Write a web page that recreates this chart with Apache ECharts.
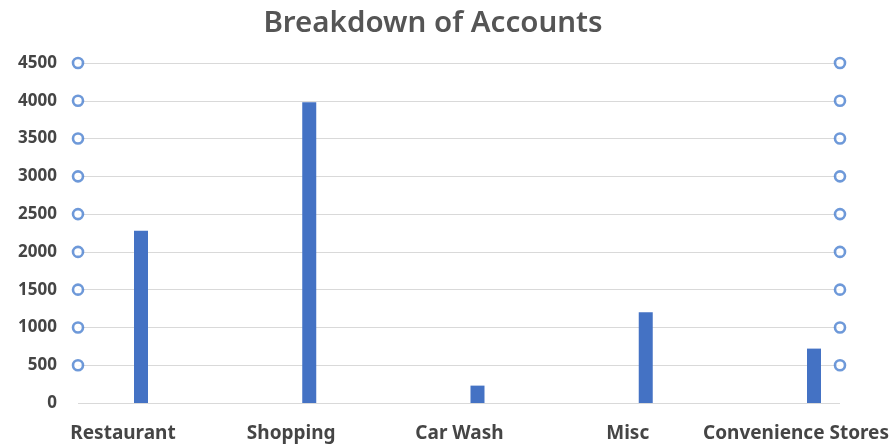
<!DOCTYPE html>
<html>
<head>
<meta charset="utf-8">
<script src="https://cdn.jsdelivr.net/npm/echarts@6/dist/echarts.min.js"></script>
<style>
  html, body { margin: 0; padding: 0; background: #fff; }
  #chart { width: 892px; height: 445px; }
</style>
</head>
<body>
<div id="chart"></div>
<script>
// Account counts by business category
const categories = ['Restaurant', 'Shopping', 'Car Wash', 'Misc', 'Convenience Stores'];
const accounts = [2280, 3980, 230, 1200, 720];
// Value-axis ticks (marker rows shown at every tick above zero)
const yTicks = [0, 500, 1000, 1500, 2000, 2500, 3000, 3500, 4000, 4500];

const markerRows = yTicks.filter(v => v > 0);
const markerData = [];
markerRows.forEach(v => { markerData.push([0, v]); markerData.push([1, v]); });

const labelFont = { fontFamily: 'Noto Sans', fontWeight: 'bold', color: '#454545' };
const chart = echarts.init(document.getElementById('chart'), null, { renderer: 'canvas' });

chart.setOption({
  backgroundColor: '#ffffff',
  animation: false,
  title: {
    text: 'Breakdown of Accounts',
    left: 428, top: 4, textAlign: 'center',
    textStyle: { fontFamily: 'Noto Sans', fontWeight: 600, fontSize: 29.5, color: '#555' }
  },
  grid: [
    // plot area: gridlines and the marker columns at each end
    { left: 78, right: 52, top: 63, bottom: 42 },
    // bar layer: first and last category sit on the grid edges
    { left: 141, right: 74, top: 63, bottom: 42 }
  ],
  xAxis: [
    { gridIndex: 0, type: 'value', min: 0, max: 1, show: false },
    {
      gridIndex: 1, type: 'category', data: categories, boundaryGap: false,
      axisLine: { show: false }, axisTick: { show: false }, splitLine: { show: false },
      axisLabel: Object.assign({
        fontSize: 19, margin: 21, interval: 0, padding: [0, 36, 0, 0]
      }, labelFont)
    }
  ],
  yAxis: [
    {
      gridIndex: 0, type: 'value', min: 0, max: 4500, interval: 500,
      axisLine: { show: false }, axisTick: { show: false },
      axisLabel: Object.assign({
        fontSize: 17, margin: 21, formatter: v => String(v)
      }, labelFont),
      splitLine: { lineStyle: { color: '#d9d9d9', width: 1 } }
    },
    {
      gridIndex: 1, type: 'value', min: 0, max: 4500, interval: 500,
      show: false, splitLine: { show: false }
    }
  ],
  series: [
    {
      type: 'bar', xAxisIndex: 1, yAxisIndex: 1,
      data: accounts, barWidth: 14,
      itemStyle: { color: '#4472C4' }
    },
    {
      type: 'scatter', xAxisIndex: 0, yAxisIndex: 0,
      data: markerData, symbol: 'circle', symbolSize: 10,
      itemStyle: { color: '#ffffff', borderColor: '#4a7fd0', borderWidth: 2.6 }
    }
  ]
});
</script>
</body>
</html>
